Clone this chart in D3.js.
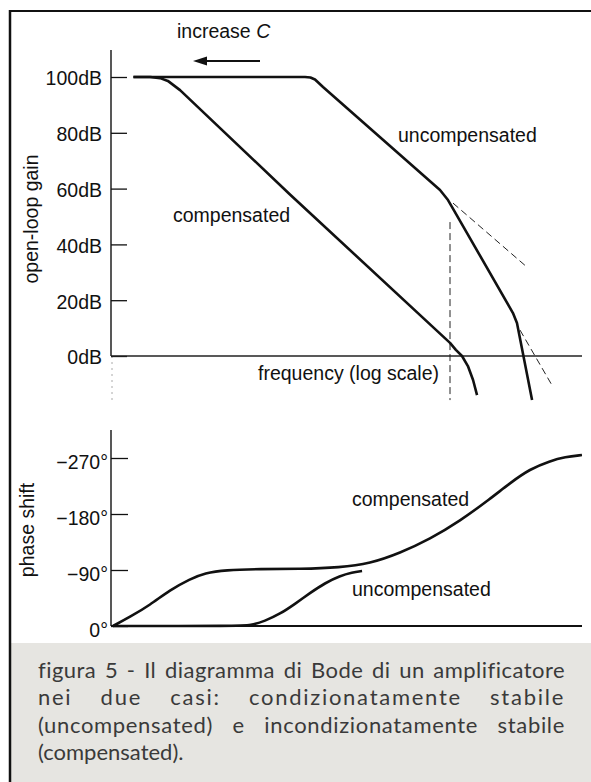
<!DOCTYPE html>
<html>
<head>
<meta charset="utf-8">
<script src="https://cdn.jsdelivr.net/npm/d3@7"></script>
<style>
  body { margin: 0; background: #fff; }
  svg { display: block; }
  text { font-family: "Liberation Sans", Arial, sans-serif; fill: #111; }
  text.caption { font-family: Lato, sans-serif; fill: #3a3a3a; }
</style>
</head>
<body>
<svg width="591" height="782"></svg>
<script>
// ---- data (frequency is arbitrary, log scale) ----
const gainTicks = [0, 20, 40, 60, 80, 100];
const phaseTicks = [0, -90, -180, -270];
const phaseTickLabels = ["0°", "−90°", "−180°", "−270°"];

// open-loop gain, dB
const compFreq = [2.4, 4.6, 6.8, 9.2, 14.8, 1.08e3, 5.57e5, 7.0e5, 8.9e5, 1.12e6, 1.37e6, 1.6e6];
const compGain = [100, 100, 99.6, 98.6, 95.3, 57.9, 4.7, 2.2, 0, -3.6, -8.6, -14];
const uncompFreq = [2.4, 1.94e3, 2.4e3, 2.87e3, 3.92e3, 3.77e5, 5.15e5, 6.76e5, 6.5e6, 7.6e6, 1.37e7];
const uncompGain = [100, 100, 99.8, 99.1, 96.4, 59.5, 55.9, 51.6, 15.4, 11.8, -15.8];

// dashed asymptotes and the marker at the second pole
const asym1Freq = [6.26e5, 1.12e7], asym1Gain = [54.8, 31.9];
const asym2Freq = [8.55e6, 3.1e7], asym2Gain = [9.3, -11.1];
const poleFreq = 5.57e5, poleGain = [48, -15.8];

// phase shift, degrees
const compPhFreq = [1.08, 2.1, 4.58, 10, 21.8, 39.2, 85.5, 335, 1.6e3, 7.6e3, 2.45e4, 7.9e4, 2.55e5, 8.2e5, 2.65e6, 5.8e6, 1.26e7, 2.76e7, 4.95e7, 9.6e7];
const compPhase = [0, -14.5, -33.8, -57.9, -75.5, -85.2, -90, -91.6, -91.6, -94, -100.4, -117.3, -139.8, -168.8, -204.1, -229.8, -252.3, -265.2, -271.6, -274.8];
const uncompPhFreq = [1.08, 153, 227, 407, 731, 1.31e3, 2.36e3, 4.24e3, 7.6e3, 1.22e4, 1.8e4];
const uncompPhase = [0, 0, -0.8, -8.0, -19.3, -35.4, -53.0, -69.1, -80.4, -86.0, -88.4];

const captionLines = [
  "figura 5 - Il diagramma di Bode di un amplificatore",
  "nei due casi: condizionatamente stabile",
  "(uncompensated) e incondizionatamente stabile",
  "(compensated)."
];

// ---- layout ----
const svg = d3.select("svg");
const fs = 19.5;

const x = d3.scaleLog().domain([1, 1e8]).range([111, 583]);
const yGain = d3.scaleLinear().domain([0, 100]).range([356, 77]);
const yPhase = d3.scaleLinear().domain([0, -270]).range([626, 458]);

// caption box + frame
svg.append("rect")
  .attr("x", 11).attr("y", 643).attr("width", 580).attr("height", 139)
  .attr("fill", "#e6e5e1");
svg.append("line").attr("x1", 10).attr("x2", 10).attr("y1", 10).attr("y2", 782)
  .attr("stroke", "#111").attr("stroke-width", 2.5);
svg.append("line").attr("x1", 9).attr("x2", 591).attr("y1", 11).attr("y2", 11)
  .attr("stroke", "#111").attr("stroke-width", 2);

// ---- gain panel ----
svg.append("line")
  .attr("x1", x.range()[0]).attr("x2", x.range()[0])
  .attr("y1", 50).attr("y2", yGain(0))
  .attr("stroke", "#111").attr("stroke-width", 1.4);
svg.append("line")
  .attr("x1", x.range()[0] + 1).attr("x2", x.range()[0] + 1)
  .attr("y1", yGain(0)).attr("y2", 400)
  .attr("stroke", "#aaa").attr("stroke-width", 1).attr("stroke-dasharray", "2,4");

svg.append("g")
  .attr("transform", `translate(${x.range()[0]},0)`)
  .call(d3.axisLeft(yGain).tickValues(gainTicks).tickSizeInner(-16).tickSizeOuter(0)
    .tickPadding(9).tickFormat(d => d + "dB"))
  .call(g => g.select(".domain").remove())
  .call(g => g.selectAll("line").attr("stroke", "#111").attr("stroke-width", 1.3))
  .call(g => g.selectAll("text").attr("font-size", fs).attr("dy", "0.4em"))
  .attr("font-family", null).attr("font-size", null);

// 0 dB line
svg.append("line")
  .attr("x1", x.range()[0]).attr("x2", 582)
  .attr("y1", yGain(0)).attr("y2", yGain(0))
  .attr("stroke", "#222").attr("stroke-width", 1.3);

const gainLine = d3.line()
  .x(d => x(d[0]))
  .y(d => yGain(d[1]));

// dashed guides
[[asym1Freq, asym1Gain], [asym2Freq, asym2Gain]].forEach(([f, g]) => {
  svg.append("path")
    .datum(d3.zip(f, g))
    .attr("d", gainLine)
    .attr("fill", "none").attr("stroke", "#222").attr("stroke-width", 1)
    .attr("stroke-dasharray", "7,4");
});
svg.append("line")
  .attr("x1", x(poleFreq)).attr("x2", x(poleFreq))
  .attr("y1", yGain(poleGain[0])).attr("y2", yGain(poleGain[1]))
  .attr("stroke", "#222").attr("stroke-width", 1).attr("stroke-dasharray", "7,4");

svg.append("path")
  .datum(d3.zip(uncompFreq, uncompGain))
  .attr("d", gainLine)
  .attr("fill", "none").attr("stroke", "#111").attr("stroke-width", 2.6)
  .attr("stroke-linejoin", "round");
svg.append("path")
  .datum(d3.zip(compFreq, compGain))
  .attr("d", gainLine)
  .attr("fill", "none").attr("stroke", "#111").attr("stroke-width", 2.6)
  .attr("stroke-linejoin", "round");

// annotations
svg.append("text").attr("x", 177).attr("y", 38).attr("font-size", fs)
  .text("increase ")
  .append("tspan").attr("font-style", "italic").text("C");
svg.append("line").attr("x1", 260).attr("x2", 204).attr("y1", 61).attr("y2", 61)
  .attr("stroke", "#111").attr("stroke-width", 2.2);
svg.append("path").attr("d", "M193,61 L207,56.5 L207,65.5 Z").attr("fill", "#111");

svg.append("text").attr("x", 398).attr("y", 142).attr("font-size", fs).text("uncompensated");
svg.append("text").attr("x", 173).attr("y", 222).attr("font-size", fs).text("compensated");
svg.append("text").attr("x", 258).attr("y", 380).attr("font-size", fs).text("frequency (log scale)");

svg.append("text")
  .attr("transform", "translate(38,219) rotate(-90)")
  .attr("text-anchor", "middle").attr("font-size", fs)
  .text("open-loop gain");

// ---- phase panel ----
svg.append("line")
  .attr("x1", x.range()[0]).attr("x2", x.range()[0])
  .attr("y1", 430).attr("y2", yPhase(0))
  .attr("stroke", "#111").attr("stroke-width", 1.4);

svg.append("g")
  .attr("transform", `translate(${x.range()[0]},0)`)
  .call(d3.axisLeft(yPhase).tickValues(phaseTicks).tickSizeInner(-17).tickSizeOuter(0)
    .tickPadding(3).tickFormat((d, i) => phaseTickLabels[i]))
  .call(g => g.select(".domain").remove())
  .call(g => g.selectAll("line").attr("stroke", "#111").attr("stroke-width", 1.3))
  .call(g => g.selectAll("text").attr("font-size", fs).attr("dy", "0.55em"))
  .attr("font-family", null).attr("font-size", null);

svg.append("line")
  .attr("x1", x.range()[0]).attr("x2", 582)
  .attr("y1", yPhase(0)).attr("y2", yPhase(0))
  .attr("stroke", "#111").attr("stroke-width", 2.2);

const phaseLine = d3.line()
  .x(d => x(d[0]))
  .y(d => yPhase(d[1]))
  .curve(d3.curveBasis);

svg.append("path")
  .datum(d3.zip(compPhFreq, compPhase))
  .attr("d", phaseLine)
  .attr("fill", "none").attr("stroke", "#111").attr("stroke-width", 2.6);
svg.append("path")
  .datum(d3.zip(uncompPhFreq, uncompPhase))
  .attr("d", phaseLine)
  .attr("fill", "none").attr("stroke", "#111").attr("stroke-width", 2.6);

svg.append("text").attr("x", 352).attr("y", 506).attr("font-size", fs).text("compensated");
svg.append("text").attr("x", 352).attr("y", 596).attr("font-size", fs).text("uncompensated");

svg.append("text")
  .attr("transform", "translate(34,530) rotate(-90)")
  .attr("text-anchor", "middle").attr("font-size", fs)
  .text("phase shift");

// ---- caption, justified like the printed page ----
const capLeft = 38, capRight = 565;
const capY = [678, 705, 733, 760];

const probe = svg.append("text").attr("class", "caption").attr("font-size", 20)
  .text(captionLines[0]);
let capFs = 20 * (capRight - capLeft) / probe.node().getComputedTextLength();
capFs = Math.max(18, Math.min(22, capFs));
probe.remove();

captionLines.forEach((line, i) => {
  const words = line.split(" ");
  const g = svg.append("g");
  const nodes = words.map(w => g.append("text")
    .attr("class", "caption")
    .attr("y", capY[i])
    .attr("font-size", capFs)
    .text(w));
  const last = i === captionLines.length - 1;
  const space = capFs * 0.25;
  let widths = nodes.map(n => n.node().getComputedTextLength());
  if (!last) {
    // spread part of the slack into the letters, the rest into the word gaps
    const slack = capRight - capLeft - d3.sum(widths) - space * (words.length - 1);
    const chars = d3.sum(words, w => w.length);
    const ls = Math.max(0, Math.min(2.5, slack * 0.4 / chars));
    nodes.forEach(n => n.style("letter-spacing", ls + "px"));
    widths = nodes.map(n => n.node().getComputedTextLength());
  }
  const gap = last ? space : (capRight - capLeft - d3.sum(widths)) / (words.length - 1);
  let cx = capLeft;
  nodes.forEach((n, j) => { n.attr("x", cx); cx += widths[j] + gap; });
});
</script>
</body>
</html>
